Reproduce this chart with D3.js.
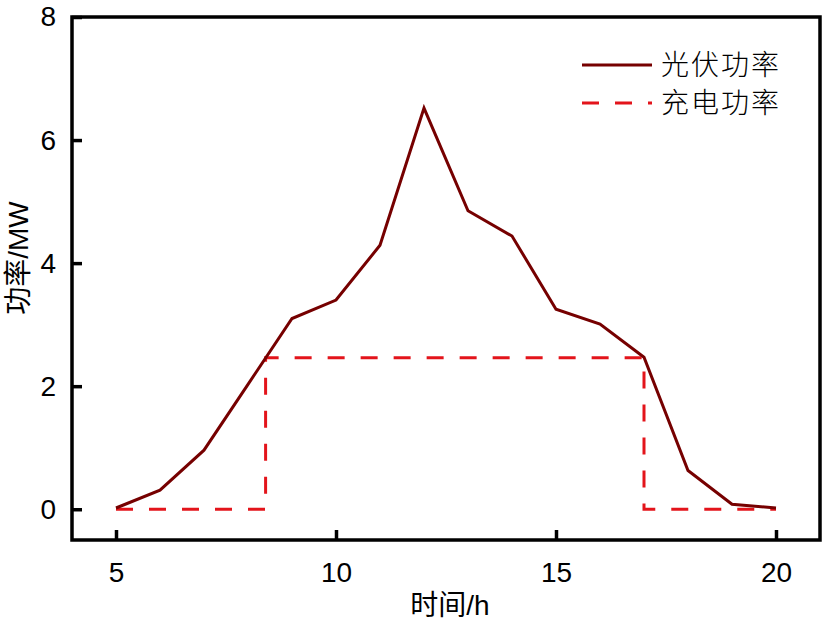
<!DOCTYPE html>
<html><head><meta charset="utf-8">
<script src="https://cdn.jsdelivr.net/npm/d3@7"></script>
<style>body{margin:0;background:#fff}</style>
</head><body>
<svg id="c" width="823" height="625"></svg>
<script>
const hours = [5,6,7,8,9,10,11,12,13,14,15,16,17,18,19,20];
const pvPower = [0.02,0.31,0.96,2.03,3.10,3.40,4.29,6.52,4.85,4.44,3.25,3.01,2.47,0.63,0.08,0.02];
const chargeHours = [5,8.4,8.4,17,17,20];
const chargePower = [0,0,2.46,2.46,0,0];
const xTicks = [5,10,15,20];
const yTicks = [0,2,4,6,8];
const seriesNames = ["光伏功率","充电功率"];

const svg = d3.select("#c");
const L=72, R=820, T=17, B=540;
const x = d3.scaleLinear().domain([4,21]).range([L,R]);
const y = d3.scaleLinear().domain([-0.5,8]).range([B,T]);
const latin = "Liberation Sans, Arial, sans-serif";
const cjk = "Liberation Sans, 'Noto Sans CJK SC', sans-serif";

const line = d3.line().x(d=>x(d[0])).y(d=>y(d[1]));
svg.append("path").datum(chargeHours.map((h,i)=>[h,chargePower[i]]))
  .attr("d",line).attr("fill","none").attr("stroke","#e3141b").attr("stroke-width",3)
  .attr("stroke-dasharray","17,16");
svg.append("path").datum(hours.map((h,i)=>[h,pvPower[i]]))
  .attr("d",line).attr("fill","none").attr("stroke","#760000").attr("stroke-width",3)
  .attr("stroke-linejoin","miter");

const xAxis = d3.axisBottom(x).tickValues(xTicks).tickSizeInner(-10).tickSizeOuter(0).tickPadding(22);
const gx = svg.append("g").attr("transform",`translate(0,${B})`).call(xAxis);
const yAxis = d3.axisLeft(y).tickValues(yTicks).tickSizeInner(-10).tickSizeOuter(0).tickPadding(16);
const gy = svg.append("g").attr("transform",`translate(${L},0)`).call(yAxis);
[gx,gy].forEach(g=>{
  g.select(".domain").remove();
  g.selectAll(".tick line").attr("stroke","#000").attr("stroke-width",3.5);
  g.selectAll(".tick text").attr("font-family",latin).attr("font-size",28).attr("fill","#000");
});
svg.append("rect").attr("x",L).attr("y",T).attr("width",R-L).attr("height",B-T)
  .attr("fill","none").attr("stroke","#000").attr("stroke-width",3.5);

svg.append("text").attr("x",450).attr("y",615).attr("text-anchor","middle")
  .attr("font-family",cjk).attr("font-size",28).text("时间/h");
svg.append("text").attr("transform","translate(28,258) rotate(-90)").attr("text-anchor","middle")
  .attr("font-family",cjk).attr("font-size",28).text("功率/MW");

const leg = [{y:65,color:"#760000",dash:null},{y:103,color:"#e3141b",dash:"17,16"}];
leg.forEach((d,i)=>{
  svg.append("line").attr("x1",582).attr("x2",652).attr("y1",d.y).attr("y2",d.y)
    .attr("stroke",d.color).attr("stroke-width",3).attr("stroke-dasharray",d.dash);
  svg.append("text").attr("x",661).attr("y",d.y+10).attr("font-family","'Noto Sans CJK SC', sans-serif")
    .attr("font-weight",300).attr("font-size",28).attr("letter-spacing",2).text(seriesNames[i]);
});
</script>
</body></html>
